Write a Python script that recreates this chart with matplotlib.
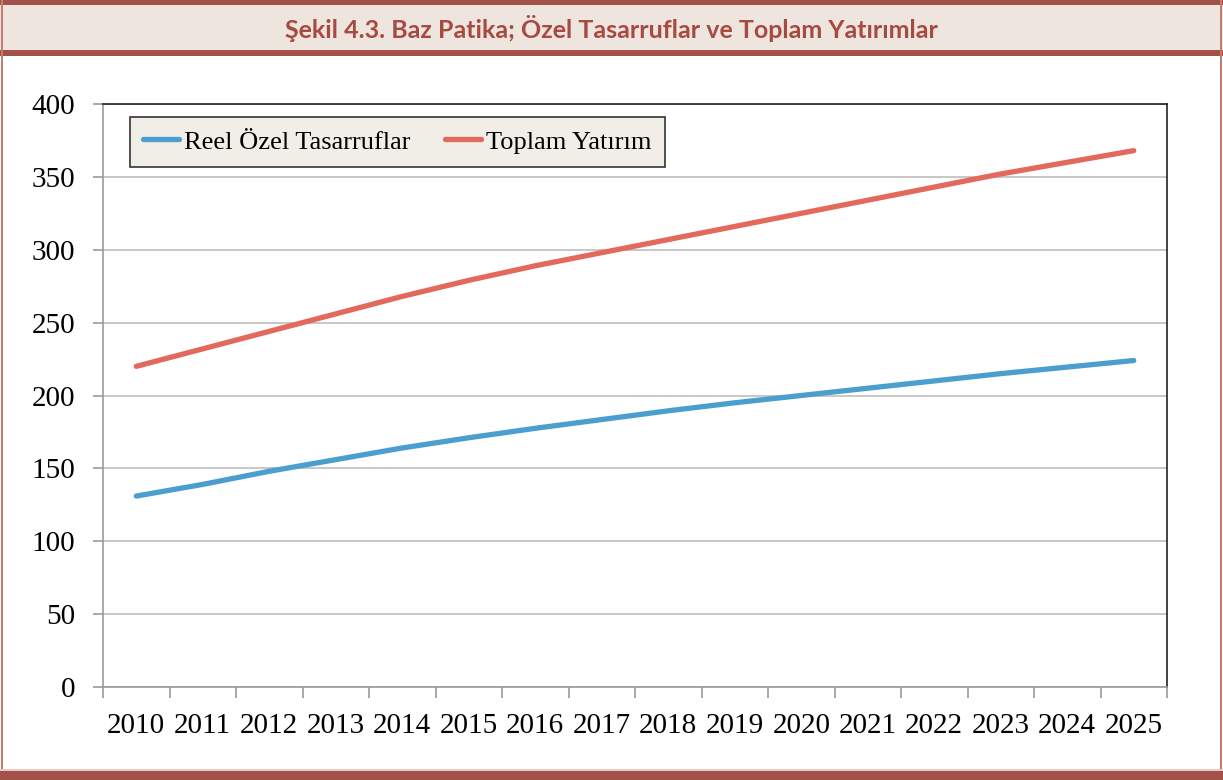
import matplotlib
matplotlib.use("Agg")
import matplotlib.pyplot as plt
from matplotlib.patches import Rectangle
from matplotlib.ticker import FixedLocator, NullFormatter

years = ["2010", "2011", "2012", "2013", "2014", "2015", "2016", "2017",
         "2018", "2019", "2020", "2021", "2022", "2023", "2024", "2025"]
reel_ozel_tasarruflar = [131, 139, 148, 156, 164, 171, 177.5, 183.5,
                         189.5, 195, 200, 205, 210, 215, 219.5, 224]
toplam_yatirim = [220, 232, 244, 256, 268, 279, 289, 298,
                  307, 316, 325, 334, 343, 352, 360, 368]
yticks = [0, 50, 100, 150, 200, 250, 300, 350, 400]
title = "Şekil 4.3. Baz Patika; Özel Tasarruflar ve Toplam Yatırımlar"
series_names = ["Reel Özel Tasarruflar", "Toplam Yatırım"]

W, H = 1223, 780
fig = plt.figure(figsize=(W / 100, H / 100), dpi=100)
fig.patch.set_facecolor("white")

def px_rect(x0, y0, x1, y1, color, z=0):
    fig.add_artist(Rectangle((x0 / W, 1 - y1 / H), (x1 - x0) / W, (y1 - y0) / H,
                             transform=fig.transFigure, facecolor=color,
                             edgecolor="none", zorder=z))

brown = "#A2514A"
# title band
px_rect(0, 0, W, 50, "#EEE5DF")
px_rect(0, 0, W, 5, brown)
px_rect(0, 50, W, 56, brown)
# side borders
px_rect(1, 0, 3, H, "#C57A70")
px_rect(W - 3, 0, W - 1, H, "#C57A70")
# bottom band
px_rect(0, 771, W, H, brown)
px_rect(0, 769, W, 771, "#E8C9C4")

fig.text(0.5, 1 - 28 / H, title, ha="center", va="center",
         fontsize=18, fontweight="bold", color="#A64A42", family="Lato")

ax = fig.add_axes([103 / W, 1 - 687 / H, 1064 / W, 583 / H])
x = list(range(len(years)))
blue = "#4A9FCF"
red = "#E3695D"
ax.plot(x, reel_ozel_tasarruflar, color=blue, lw=3.8, solid_capstyle="round",
        label=series_names[0], zorder=3)
ax.plot(x, toplam_yatirim, color=red, lw=3.8, solid_capstyle="round",
        label=series_names[1], zorder=3)

ax.set_xlim(-0.5, len(years) - 0.5)
ax.set_ylim(0, 400)
ax.set_yticks(yticks)
ax.yaxis.grid(True, color="#BEBEBE", lw=1.2)
ax.set_axisbelow(True)

# category boundaries as major ticks, labels at centers as minor
ax.xaxis.set_major_locator(FixedLocator([i - 0.5 for i in range(len(years) + 1)]))
ax.xaxis.set_major_formatter(NullFormatter())
ax.xaxis.set_minor_locator(FixedLocator(x))
ax.set_xticklabels(years, minor=True)
ax.tick_params(axis="x", which="major", length=8, width=1.2, color="#9A9A9A",
               direction="out")
ax.tick_params(axis="x", which="minor", length=0, pad=19)
ax.tick_params(axis="y", length=7, width=1.2, color="#9A9A9A", pad=13)

for lbl in ax.get_xticklabels(minor=True) + ax.get_yticklabels():
    lbl.set_family("Liberation Serif")
    lbl.set_fontsize(21)
    lbl.set_color("black")

for s in ["left", "bottom"]:
    ax.spines[s].set_color("#9A9A9A")
    ax.spines[s].set_linewidth(1.2)
for s in ["top", "right"]:
    ax.spines[s].set_color("#222222")
    ax.spines[s].set_linewidth(1.2)

leg = ax.legend(loc="upper left", bbox_to_anchor=((130 - 103) / 1064, (687 - 117) / 583),
                borderaxespad=0, ncol=2, frameon=True, fancybox=False,
                facecolor="#F1EDE7", edgecolor="#333333", framealpha=1,
                prop={"family": "Liberation Serif", "size": 19},
                handlelength=1.35, handletextpad=0.2, columnspacing=1.3,
                borderpad=0.5)
leg.get_frame().set_linewidth(1.2)

fig.savefig("out.png", dpi=100, facecolor="white")
